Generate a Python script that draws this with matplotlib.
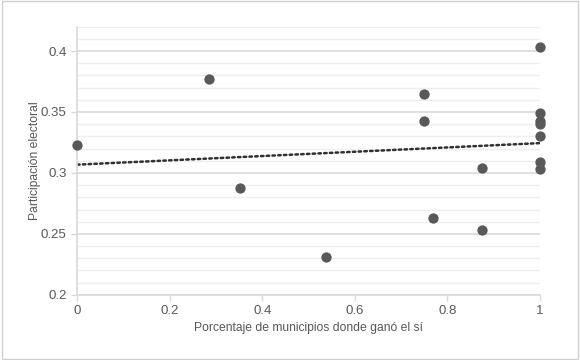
import numpy as np
import matplotlib.pyplot as plt
from matplotlib.patches import Rectangle
from matplotlib.ticker import MultipleLocator, FuncFormatter

plt.rcParams['font.family'] = ['Liberation Sans', 'DejaVu Sans']

# Porcentaje de municipios donde ganó el sí vs participación electoral
pct_si = [0.0, 0.285, 0.352, 0.538, 0.75, 0.75, 0.769, 0.875, 0.875,
          1.0, 1.0, 1.0, 1.0, 1.0, 1.0, 1.0]
participacion = [0.323, 0.377, 0.288, 0.231, 0.365, 0.343, 0.263, 0.253, 0.304,
                 0.403, 0.349, 0.343, 0.340, 0.330, 0.309, 0.303]

x_label = "Porcentaje de municipios donde ganó el sí"
y_label = "Participación electoral"

grey_text = "#595959"
major_grid = "#d9d9d9"
minor_grid = "#efefef"

fig = plt.figure(figsize=(5.8, 3.6), dpi=100)
ax = fig.add_axes([0.133, 0.181, 0.798, 0.745])

# outer border like the chart area frame
fig.patches.append(Rectangle((0.003, 0.004), 0.994, 0.992, transform=fig.transFigure,
                             fill=False, edgecolor="#d0d0d0", linewidth=1.0))

ax.set_xlim(0, 1)
ax.set_ylim(0.2, 0.42)
ax.xaxis.set_major_locator(MultipleLocator(0.2))
ax.yaxis.set_major_locator(MultipleLocator(0.05))
ax.yaxis.set_minor_locator(MultipleLocator(0.01))

fmt = FuncFormatter(lambda v, p: ("%g" % round(v, 3)))
ax.xaxis.set_major_formatter(fmt)
ax.yaxis.set_major_formatter(fmt)

ax.grid(axis="y", which="major", color=major_grid, linewidth=1.2, zorder=0)
ax.grid(axis="y", which="minor", color=minor_grid, linewidth=1.0, zorder=0)
ax.set_axisbelow(True)

for s in ["top", "right"]:
    ax.spines[s].set_visible(False)
for s in ["left", "bottom"]:
    ax.spines[s].set_color(major_grid)
    ax.spines[s].set_linewidth(1.2)

ax.tick_params(axis="both", which="major", colors=major_grid, labelcolor=grey_text,
               labelsize=9.5, length=4, width=1)
ax.tick_params(axis="y", which="minor", length=0)
ax.tick_params(axis="x", pad=3)

# scatter
ax.scatter(pct_si, participacion, s=55, color="#595959", zorder=3, clip_on=False,
           linewidths=0)

# linear trendline
m, b = np.polyfit(pct_si, participacion, 1)
xs = np.array([0, 1])
ax.plot(xs, m * xs + b, linestyle=(0, (1, 1.3)), color="#303030", linewidth=1.8,
        zorder=2, dash_capstyle="round")

ax.set_xlabel(x_label, color=grey_text, fontsize=8.7, labelpad=4)
ax.set_ylabel(y_label, color=grey_text, fontsize=8.7, labelpad=0)

fig.savefig("out.png", dpi=100)
